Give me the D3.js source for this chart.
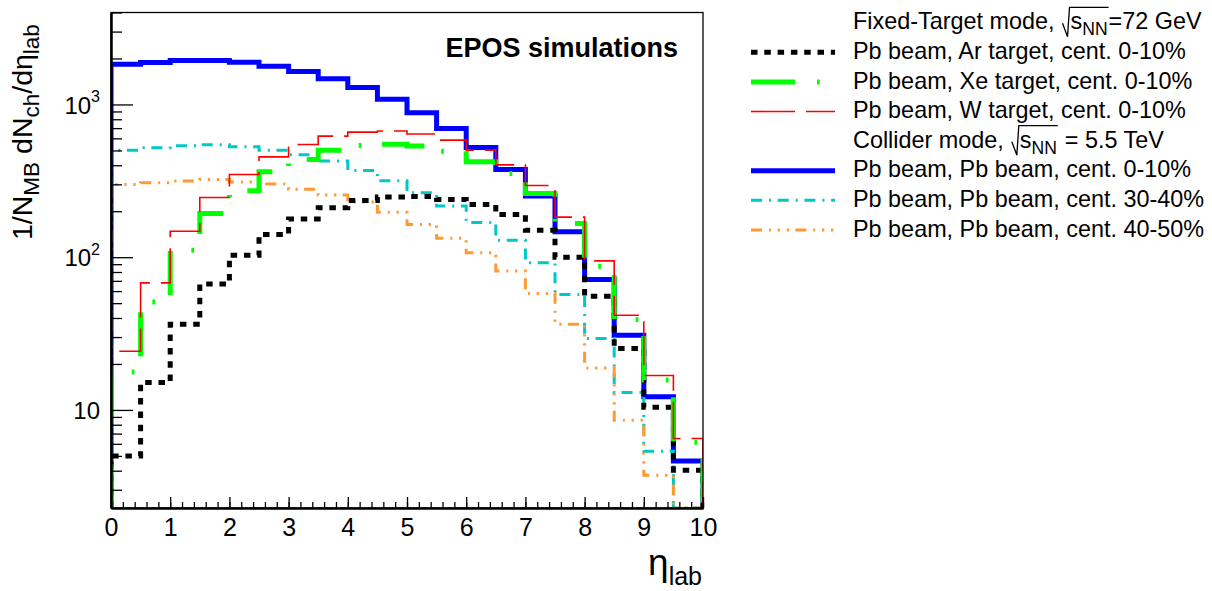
<!DOCTYPE html>
<html><head><meta charset="utf-8">
<script src="https://cdn.jsdelivr.net/npm/d3@7"></script>
<style>
body{margin:0;background:#fff}
text{font-family:"Liberation Sans", Arial, Helvetica, sans-serif;fill:#000}
</style>
</head><body><svg id="c" width="1212" height="591"></svg>
<script>
// ---- data ----
const etaEdges = [0,0.5,1,1.5,2,2.5,3,3.5,4,4.5,5,5.5,6,6.5,7,7.5,8,8.5,9,9.5,10];
const pbAr0_10 = [5.0,15.1,36.4,66.8,103,141,178,211,235,248,250,239,221,190,150,100,55.6,25.2,10.4,4.03];
const pbXe0_10 = [17.7,50.9,111,193,272,362,436,502,538,549,535,494,421,353,261,166,87.3,39.1,15.7,6.15];
const pbW0_10  = [24.2,67.9,148,246,348,454,547,620,659,670,640,584,502,402,295,183,94.6,41.7,16.8,6.5];
const pbPb0_10 = [1830,1884,1941,1941,1892,1782,1644,1471,1292,1083,881,696,523,375,252,147,71.5,30.8,12.2,4.63];
const pbPb30_40= [502,520,536,544,528,502,468,426,370,316,264,216,169,129,92,57,29.4,13.0,5.37,2.0];
const pbPb40_50= [299,307,315,323,311,302,278,255,230,197,164,133,107,81.3,57.8,36.4,18.8,8.57,3.73,2.0];
const xTickValues = [0,1,2,3,4,5,6,7,8,9,10];
const yTickValues = [10,100,1000];
const legendLabels = ["Pb beam, Ar target, cent. 0-10%","Pb beam, Xe target, cent. 0-10%","Pb beam, W target, cent. 0-10%",
  "Pb beam, Pb beam, cent. 0-10%","Pb beam, Pb beam, cent. 30-40%","Pb beam, Pb beam, cent. 40-50%"];

// ---- styles ----
const styles = {
  ar:{color:"#000000", w:5, dash:"6.5 6.8"},
  xe:{color:"#00ff00", w:5, dash:"44 22 2.7 22"},
  w :{color:"#ff0000", w:1.6, dash:"44 11"},
  pb0:{color:"#0000ff", w:5, dash:null},
  pb30:{color:"#00c8c8", w:3, dash:"11 7 2 6.7"},
  pb40:{color:"#ff9933", w:3, dash:"11 7 2 6.7 2.3 6.7 2.3 6.3"}
};
const series = [
  {key:"pb0", vals:pbPb0_10},
  {key:"pb30", vals:pbPb30_40},
  {key:"pb40", vals:pbPb40_50},
  {key:"ar", vals:pbAr0_10},
  {key:"xe", vals:pbXe0_10},
  {key:"w", vals:pbW0_10}
];

const svg = d3.select("#c");
const m = {l:111, r:703, t:12.5, b:508};
const yMin = 2.28, yMax = 4000;
const x = d3.scaleLinear().domain([0,10]).range([m.l,m.r]);
const y = d3.scaleLog().domain([yMin,yMax]).range([m.b,m.t]).clamp(true);

svg.append("clipPath").attr("id","clip").append("rect")
  .attr("x",m.l).attr("y",m.t).attr("width",m.r-m.l).attr("height",m.b-m.t);

// histograms
const line = d3.line().x(d=>x(d[0])).y(d=>y(d[1]));
function stepPts(vals){
  const pts=[[etaEdges[0],yMin]];
  vals.forEach((v,i)=>{pts.push([etaEdges[i],v]);pts.push([etaEdges[i+1],v]);});
  pts.push([etaEdges[etaEdges.length-1],yMin]);
  return pts;
}
const gH = svg.append("g").attr("clip-path","url(#clip)");
series.forEach(s=>{
  const st=styles[s.key];
  gH.append("path").attr("d",line(stepPts(s.vals)))
    .attr("fill","none").attr("stroke",st.color).attr("stroke-width",st.w)
    .attr("stroke-dasharray",st.dash).attr("stroke-linejoin","miter").attr("stroke-linecap","butt");
});

// frame
svg.append("rect").attr("x",m.l).attr("y",m.t).attr("width",m.r-m.l).attr("height",m.b-m.t)
  .attr("fill","none").attr("stroke","#000").attr("stroke-width",1.3);

// x axis
const xMinor = d3.range(0,10.0001,0.2).map(v=>+v.toFixed(1));
const gxm = svg.append("g").attr("transform",`translate(0,${m.b})`)
  .call(d3.axisBottom(x).tickValues(xMinor).tickSizeInner(-6).tickSizeOuter(0).tickFormat(""));
const gx = svg.append("g").attr("transform",`translate(0,${m.b})`)
  .call(d3.axisBottom(x).tickValues(xTickValues).tickSizeInner(-11).tickSizeOuter(0).tickPadding(10).tickFormat(d3.format("d")));
[gxm,gx].forEach(g=>{g.select(".domain").attr("stroke-width",2);g.selectAll(".tick line").attr("stroke-width",1.3);});
gx.selectAll(".tick text").attr("font-size",25).attr("font-family","Liberation Sans, Arial").attr("dy","0.7em").attr("fill","#000");

// y axis
const yMinor=[];
[1,10,100,1000].forEach(d=>{for(let k=2;k<=9;k++){const v=k*d; if(v>=yMin&&v<=yMax&&v!==10&&v!==100&&v!==1000) yMinor.push(v);}});
const gym = svg.append("g").attr("transform",`translate(${m.l},0)`)
  .call(d3.axisLeft(y).tickValues(yMinor).tickSizeInner(-11).tickSizeOuter(0).tickFormat(""));
const gy = svg.append("g").attr("transform",`translate(${m.l},0)`)
  .call(d3.axisLeft(y).tickValues(yTickValues).tickSizeInner(-22).tickSizeOuter(0).tickPadding(11).tickFormat(()=>""));
[gym,gy].forEach(g=>{g.select(".domain").attr("stroke-width",2);g.selectAll(".tick line").attr("stroke-width",1.3);});
gy.selectAll(".tick").each(function(d){
  const t=d3.select(this).select("text").attr("font-size",24).attr("dy","0.36em").attr("fill","#000").text(null);
  const e=Math.round(Math.log10(d));
  t.append("tspan").text("10");
  if(e>1) t.append("tspan").attr("font-size",16).attr("dy","-0.7em").text(e);
});

// y title
const yt = svg.append("text").attr("transform","translate(32,240) rotate(-90)").attr("font-size",28.5);
const subSz=22.5;
yt.append("tspan").text("1/N");
yt.append("tspan").attr("font-size",subSz).attr("dy",7).text("MB");
yt.append("tspan").attr("dy",-7).text(" dN");
yt.append("tspan").attr("font-size",subSz).attr("dy",7).text("ch");
yt.append("tspan").attr("dy",-7).text("/dη");
yt.append("tspan").attr("font-size",subSz).attr("dy",7).text("lab");

// x title
const xt = svg.append("text").attr("x",702).attr("y",575).attr("text-anchor","end").attr("font-size",37);
xt.append("tspan").text("η");
xt.append("tspan").attr("font-size",25).attr("dy",9.5).text("lab");

// EPOS label
svg.append("text").attr("x",678).attr("y",57).attr("text-anchor","end")
  .attr("font-size",27).attr("font-weight","bold").text("EPOS simulations");

// legend
const lx0=751, lx1=835, tx=853, base0=29.3, step=29.6, lfs=23.4;
function tw(str,fs){const t=svg.append("text").attr("font-size",fs).text(str);const w=t.node().getComputedTextLength();t.remove();return w;}
function header(i,pre,post,gap){
  const b=base0+i*step;
  svg.append("text").attr("x",tx).attr("y",b).attr("font-size",lfs).text(pre);
  const xr=tx+tw(pre,lfs)+8;
  const ws=tw("s",lfs), wn=tw("NN",lfs*0.75);
  svg.append("path").attr("d",`M${xr},${b-6} L${xr+5},${b+7.4} L${xr+7},${b-22} L${xr+8+ws+wn+1},${b-22}`)
    .attr("fill","none").attr("stroke","#000").attr("stroke-width",1.3);
  svg.append("text").attr("x",xr+8).attr("y",b).attr("font-size",lfs).text("s");
  svg.append("text").attr("x",xr+8+ws).attr("y",b+6).attr("font-size",lfs*0.75).text("NN");
  svg.append("text").attr("x",xr+8+ws+wn+1+gap).attr("y",b).attr("font-size",lfs).text(post);
}
header(0,"Fixed-Target mode,","=72 GeV",0);
header(4,"Collider mode,","= 5.5 TeV",7);
const legendRows=[{row:1,key:"ar"},{row:2,key:"xe"},{row:3,key:"w"},{row:5,key:"pb0"},{row:6,key:"pb30"},{row:7,key:"pb40"}];
legendRows.forEach((r,i)=>{
  const b=base0+r.row*step, st=styles[r.key];
  svg.append("line").attr("x1",lx0).attr("x2",lx1).attr("y1",b-6.6).attr("y2",b-6.6)
    .attr("stroke",st.color).attr("stroke-width",st.w).attr("stroke-dasharray",st.dash);
  svg.append("text").attr("x",tx).attr("y",b).attr("font-size",lfs).text(legendLabels[i]);
});
</script></body></html>
